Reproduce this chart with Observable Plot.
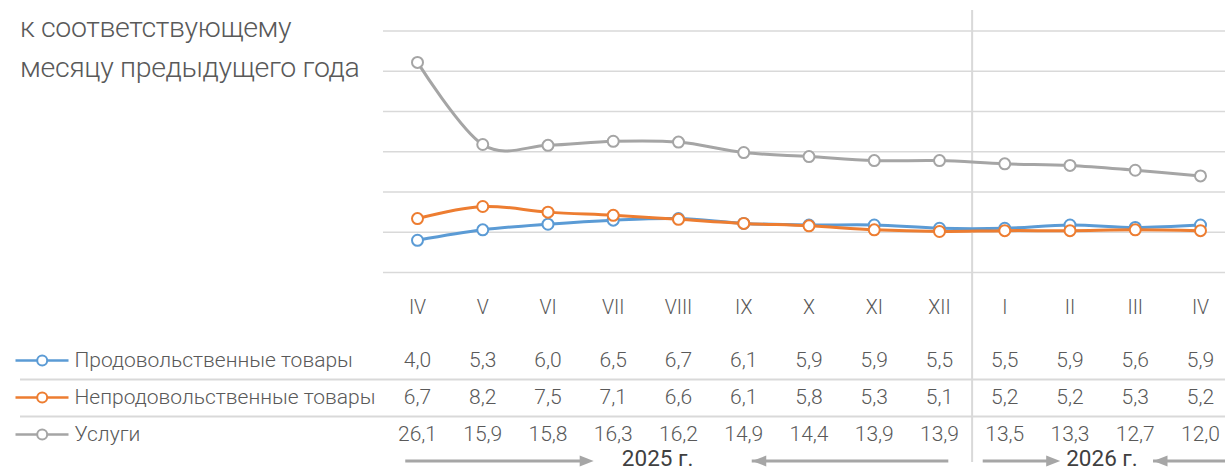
<!DOCTYPE html>
<html><head><meta charset="utf-8">
<script src="https://cdn.jsdelivr.net/npm/d3@7"></script>
<script src="https://cdn.jsdelivr.net/npm/@observablehq/plot@0.6"></script>
<style>
html,body{margin:0;padding:0;background:#fff;}
#chart{position:relative;width:1225px;height:471px;font-family:Roboto,sans-serif;color:#595959;overflow:hidden;}
#title{position:absolute;left:20px;top:8px;font-size:28.5px;letter-spacing:-0.35px;font-weight:300;line-height:39.5px;color:#595959;z-index:2;white-space:nowrap;}
#chart svg{display:block;}
</style></head>
<body><div id="chart"><div id="title">к соответствующему<br>месяцу предыдущего года</div></div>
<script>
// ---- data ----
const months = ["IV","V","VI","VII","VIII","IX","X","XI","XII","I","II","III","IV"];
const seriesNames = ["Продовольственные товары","Непродовольственные товары","Услуги"];
const food     = [4.0, 5.3, 6.0, 6.5, 6.7, 6.1, 5.9, 5.9, 5.5, 5.5, 5.9, 5.6, 5.9];
const nonfood  = [6.7, 8.2, 7.5, 7.1, 6.6, 6.1, 5.8, 5.3, 5.1, 5.2, 5.2, 5.3, 5.2];
const services = [26.1, 15.9, 15.8, 16.3, 16.2, 14.9, 14.4, 13.9, 13.9, 13.5, 13.3, 12.7, 12.0];
const yTicks = [0, 5, 10, 15, 20, 25, 30];
const years = ["2025 г.", "2026 г."];

// ---- styles / layout ----
const colors = ["#5b9bd5", "#ed7d31", "#a5a5a5"];
const gridColor = "#d9d9d9";
const arrowColor = "#a6a6a6";
const values = [food, nonfood, services];
const rows = seriesNames.flatMap((s, k) => values[k].map((v, i) => ({series: s, k, i, v})));
const fmt = v => d3.format(".1f")(v).replace(".", ",");
const sepX = months.indexOf("I") - 0.5; // boundary between XII and I (year change)
const xScale = {domain: [0, months.length - 1], range: [417, 1200]};

// annotation layout (year labels with arrows), x in month-index units
const yearLayout = [
  {label: years[0], at: 3.68, arrows: [{tail: -0.18, tip: 2.70}, {tail: 8.02, tip: 5.13}]},
  {label: years[1], at: 10.49, arrows: [{tail: 8.67, tip: 9.85}, {tail: 12.5, tip: 11.28}]}
];
const arrows = yearLayout.flatMap(d => d.arrows);
const rightArrows = arrows.filter(a => a.tip > a.tail);
const leftArrows = arrows.filter(a => a.tip < a.tail);

const headRight = {draw(ctx) { ctx.moveTo(0, 0); ctx.lineTo(-14, -5.5); ctx.lineTo(-14, 5.5); ctx.closePath(); }};
const headLeft = {draw(ctx) { ctx.moveTo(0, 0); ctx.lineTo(14, -5.5); ctx.lineTo(14, 5.5); ctx.closePath(); }};
const legendLine = {draw(ctx) { ctx.moveTo(-26.5, 0); ctx.lineTo(26.5, 0); }};

// ---- chart ----
const seriesMarks = seriesNames.flatMap((s, k) => {
  const d = rows.filter(r => r.k === k);
  return [
    Plot.line(d, {x: "i", y: "v", stroke: colors[k], strokeWidth: 3, curve: "cardinal"}),
    Plot.dot(d, {x: "i", y: "v", r: 5.5, fill: "white", stroke: colors[k], strokeWidth: 2})
  ];
});

const chart = Plot.plot({
  width: 1225, height: 330,
  marginLeft: 383, marginRight: 0, marginTop: 30.5, marginBottom: 58,
  style: {fontFamily: "Roboto, sans-serif", fontSize: "19.5px", fontWeight: 300, color: "#595959", background: "transparent", overflow: "visible"},
  x: {...xScale, ticks: d3.range(months.length), tickFormat: i => months[i], tickSize: 0, tickPadding: 28, label: null},
  y: {domain: [0, 30], axis: null},
  marks: [
    Plot.ruleY(yTicks, {stroke: gridColor, strokeWidth: 1.3}),
    Plot.ruleX([sepX], {stroke: gridColor, strokeWidth: 2, insetTop: -20.5, insetBottom: -58}),
    ...seriesMarks
  ]
});

const table = Plot.plot({
  width: 1225, height: 141,
  marginLeft: 20, marginRight: 0, marginTop: 0, marginBottom: 0,
  style: {fontFamily: "Roboto, sans-serif", fontSize: "21px", fontWeight: 300, color: "#595959", background: "transparent", overflow: "visible"},
  x: {...xScale, axis: null},
  y: {type: "point", domain: seriesNames, range: [29.5, 105], padding: 0, axis: null},
  marks: [
    Plot.ruleY(seriesNames.slice(0, 2), {y: d => d, dy: 19, stroke: gridColor, strokeWidth: 2}),
    Plot.ruleX([sepX], {stroke: gridColor, strokeWidth: 2, insetBottom: 9}),
    Plot.text(rows, {x: "i", y: "series", text: d => fmt(d.v), fill: "#595959"}),
    Plot.dot(seriesNames, {y: d => d, frameAnchor: "left", dx: 21.5, symbol: legendLine, stroke: (d, k) => colors[k], strokeWidth: 2.5, fill: "none"}),
    Plot.dot(seriesNames, {y: d => d, frameAnchor: "left", dx: 21.7, r: 5, fill: "white", stroke: (d, k) => colors[k], strokeWidth: 2}),
    Plot.text(seriesNames, {y: d => d, frameAnchor: "left", dx: 54, textAnchor: "start", text: d => d, fill: "#595959"}),
    Plot.ruleY(rightArrows, {y: null, x1: "tail", x2: "tip", dy: 60, insetRight: 8, stroke: arrowColor, strokeWidth: 3}),
    Plot.ruleY(leftArrows, {y: null, x1: "tail", x2: "tip", dy: 60, insetLeft: 8, stroke: arrowColor, strokeWidth: 3}),
    Plot.dot(rightArrows, {x: "tip", dy: 60, symbol: headRight, fill: arrowColor, stroke: "none"}),
    Plot.dot(leftArrows, {x: "tip", dy: 60, symbol: headLeft, fill: arrowColor, stroke: "none"}),
    Plot.text(yearLayout, {x: "at", text: "label", dy: 58, fontSize: 22.5, fontWeight: 400, fill: "#404040"})
  ]
});

const root = document.getElementById("chart");
root.appendChild(chart);
root.appendChild(table);
</script>
</body></html>
